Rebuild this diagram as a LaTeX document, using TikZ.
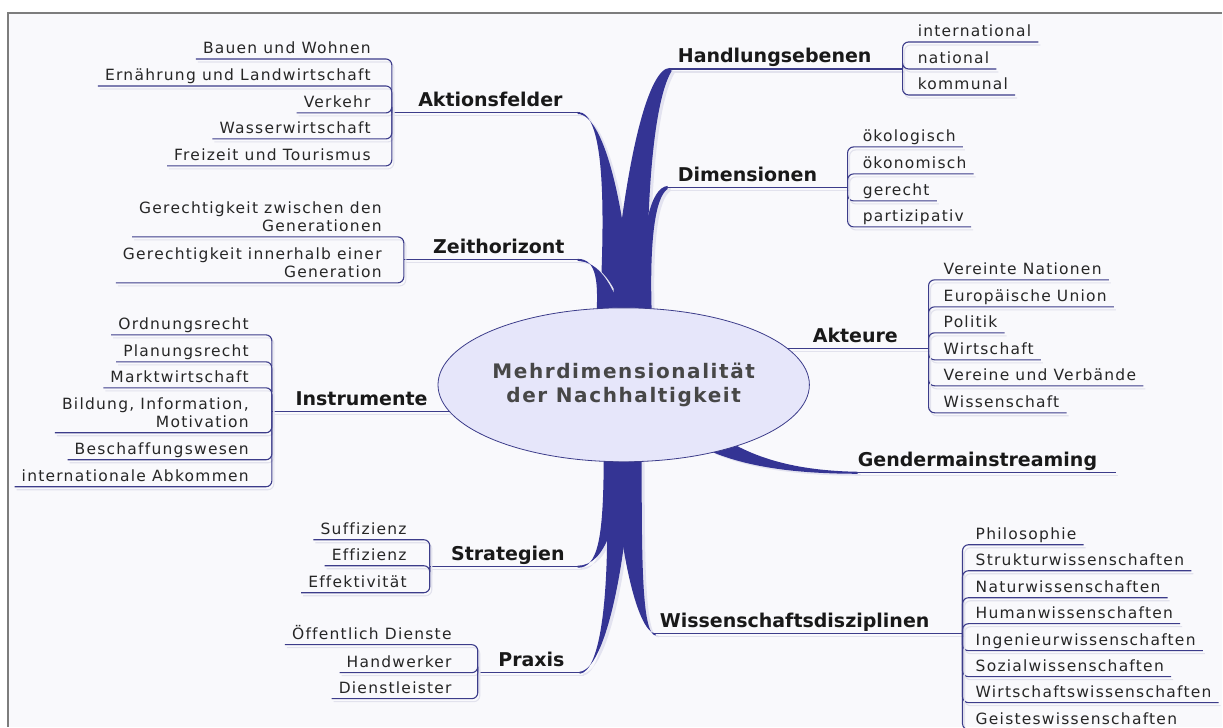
\documentclass[tikz,border=0pt]{standalone}
\usepackage{fontspec}
\setmainfont{DejaVu Sans}
\newfontfamily\leaffont[LetterSpace=8, Ligatures=NoCommon]{DejaVu Sans}
\newfontfamily\corefont[LetterSpace=8, Ligatures=NoCommon]{DejaVu Sans}
\usetikzlibrary{shapes.geometric}
\definecolor{navy}{RGB}{52,52,148}
\definecolor{twigblue}{RGB}{60,60,138}
\definecolor{bulb}{RGB}{230,230,250}
\definecolor{paper}{RGB}{249,249,252}
\definecolor{ink}{RGB}{38,38,38}
\definecolor{framegray}{RGB}{125,125,125}

\begin{document}
\begin{tikzpicture}[
  x=1pt, y=-1pt,
  limb/.style={fill=navy, preaction={fill=navy!14,
               transform canvas={xshift=3pt, yshift=-2pt}}},
  twig/.style={draw=twigblue, line width=1.1pt, rounded corners=6pt,
               preaction={draw=twigblue!15, line width=1.1pt,
                          transform canvas={xshift=2pt, yshift=-3pt}}},
  topic/.style={font=\fontsize{19}{22}\selectfont\bfseries, text=black!90,
                inner xsep=2pt, inner ysep=2pt, text depth=4pt},
  leaf/.style={font=\leaffont\fontsize{15.5}{18}\selectfont, text=ink,
               inner xsep=7pt, inner ysep=1pt, text depth=4pt},
  lleaf/.style={leaf, anchor=south east, align=right},
  rleaf/.style={leaf, anchor=south west, align=left},
  core/.style={ellipse, draw=twigblue, line width=0.8pt, fill=bulb,
               minimum width=332pt, minimum height=154pt, inner sep=0pt,
               font=\corefont\fontsize{20}{24}\selectfont\bfseries,
               text=ink!85, align=center},
]
% paper and frame
\fill[white] (0,0) rectangle (1223,727);
\fill[paper] (8,13) rectangle (1223,727);
\draw[framegray, line width=1.2pt] (8,727) -- (8,13) -- (1223,13);
\useasboundingbox (0,0) rectangle (1223,727);

% junctions and branch tips
\coordinate (jHand) at (903,69);   \coordinate (tHand) at (670,69);
\coordinate (jDim) at (848,188);   \coordinate (tDim) at (666,188);
\coordinate (jAkt) at (929,349);   \coordinate (tAkt) at (760,349);
\coordinate (jGen) at (1117,473);  \coordinate (tGen) at (855,473);
\coordinate (jWis) at (963,634);   \coordinate (tWis) at (654,634);
\coordinate (jAkf) at (392,113);   \coordinate (tAkf) at (580,113);
\coordinate (jZeit) at (404,260);  \coordinate (tZeit) at (580,260);
\coordinate (jInst) at (272,412);  \coordinate (tInst) at (480,412);
\coordinate (jStr) at (430,567);   \coordinate (tStr) at (580,567);
\coordinate (jPrx) at (478,673);   \coordinate (tPrx) at (582,673);

% thick limbs
\fill[limb] (578,112) .. controls (604,112) and (606,200) .. (600,312)
  -- (632,312) .. controls (628,220) and (606,114) .. (578,114) -- cycle;
\fill[limb] (578,259) .. controls (598,259) and (598,285) .. (597,312)
  -- (622,312) .. controls (612,285) and (600,262) .. (578,261) -- cycle;
\fill[limb] (670,68) .. controls (650,68) and (626,150) .. (612,312)
  -- (648,312) .. controls (646,200) and (654,100) .. (672,71) -- cycle;
\fill[limb] (668,186) .. controls (650,188) and (642,230) .. (638,312)
  -- (652,312) .. controls (650,250) and (654,198) .. (668,189) -- cycle;
\fill[limb] (578,568) .. controls (598,568) and (604,540) .. (604,455)
  -- (622,455) .. controls (620,520) and (606,566) .. (578,566) -- cycle;
\fill[limb] (580,674) .. controls (600,672) and (612,600) .. (606,455)
  -- (632,455) .. controls (628,560) and (606,670) .. (580,672) -- cycle;
\fill[limb] (656,636) .. controls (642,634) and (642,560) .. (642,455)
  -- (614,455) .. controls (618,540) and (636,632) .. (656,634) -- cycle;
\fill[limb] (858,472) .. controls (800,471) and (760,460) .. (728,441)
  -- (712,452) .. controls (750,468) and (800,474) .. (858,474) -- cycle;

% topic lines
\foreach \nm in {Hand, Dim, Akt, Gen, Wis, Akf, Zeit, Inst, Str, Prx}
  \draw[twig] (t\nm) -- (j\nm);

% centre
\node[core] (core) at (624,385) {Mehrdimensionalität\\der Nachhaltigkeit};

% right side
\node[topic, anchor=south west] (hand) at (676,69) {Handlungsebenen};
\foreach \y/\txt [count=\i] in {42/international, 69/national, 95/kommunal}{
  \node[rleaf] (hand\i) at (911,\y) {\txt};
  \draw[twig] (jHand) |- (hand\i.south east);
}
\node[topic, anchor=south west] (dim) at (676,188) {Dimensionen};
\foreach \y/\txt [count=\i] in {147/ökologisch, 174/ökonomisch, 201/gerecht,
    227/partizipativ}{
  \node[rleaf] (dim\i) at (856,\y) {\txt};
  \draw[twig] (jDim) |- (dim\i.south east);
}
\node[topic, anchor=south west] (akt) at (811,349) {Akteure};
\foreach \y/\txt [count=\i] in {280/Vereinte Nationen, 307/Europäische Union,
    333/Politik, 360/Wirtschaft, 386/Vereine und Verbände, 413/Wissenschaft}{
  \node[rleaf] (akt\i) at (937,\y) {\txt};
  \draw[twig] (jAkt) |- (akt\i.south east);
}
\node[topic, anchor=south west] (gen) at (856,473) {Gendermainstreaming};
\node[topic, anchor=south west] (wis) at (658,634) {Wissenschaftsdisziplinen};
\foreach \y/\txt [count=\i] in {545/Philosophie, 571/Strukturwissenschaften,
    598/Naturwissenschaften, 624/Humanwissenschaften,
    651/Ingenieurwissenschaften, 677/Sozialwissenschaften,
    703/Wirtschaftswissenschaften, 730/Geisteswissenschaften}{
  \node[rleaf] (wis\i) at (969,\y) {\txt};
  \draw[twig] (jWis) |- (wis\i.south east);
}

% left side
\node[topic, anchor=south east] (akf) at (565,113) {Aktionsfelder};
\foreach \y/\txt [count=\i] in {59/Bauen und Wohnen,
    86/Ernährung und Landwirtschaft, 113/Verkehr, 139/Wasserwirtschaft,
    166/Freizeit und Tourismus}{
  \node[lleaf] (akf\i) at (378,\y) {\txt};
  \draw[twig] (jAkf) |- (akf\i.south west);
}
\node[topic, anchor=south east] (zeit) at (567,260) {Zeithorizont};
\foreach \y/\txt [count=\i] in {237/{Gerechtigkeit zwischen den\\Generationen},
    283/{Gerechtigkeit innerhalb einer\\Generation}}{
  \node[lleaf] (zeit\i) at (389,\y) {\txt};
  \draw[twig] (jZeit) |- (zeit\i.south west);
}
\node[topic, anchor=south east] (inst) at (430,412) {Instrumente};
\foreach \y/\txt [count=\i] in {335/Ordnungsrecht, 362/Planungsrecht,
    388/Marktwirtschaft, 433/{Bildung, Information,\\Motivation},
    460/Beschaffungswesen, 487/internationale Abkommen}{
  \node[lleaf] (inst\i) at (256,\y) {\txt};
  \draw[twig] (jInst) |- (inst\i.south west);
}
\node[topic, anchor=south east] (str) at (567,567) {Strategien};
\foreach \y/\txt [count=\i] in {540/Suffizienz, 566/Effizienz, 593/Effektivität}{
  \node[lleaf] (str\i) at (414,\y) {\txt};
  \draw[twig] (jStr) |- (str\i.south west);
}
\node[topic, anchor=south east] (prx) at (567,673) {Praxis};
\foreach \y/\txt [count=\i] in {645/Öffentlich Dienste, 673/Handwerker,
    699/Dienstleister}{
  \node[lleaf] (prx\i) at (459,\y) {\txt};
  \draw[twig] (jPrx) |- (prx\i.south west);
}
\end{tikzpicture}
\end{document}
